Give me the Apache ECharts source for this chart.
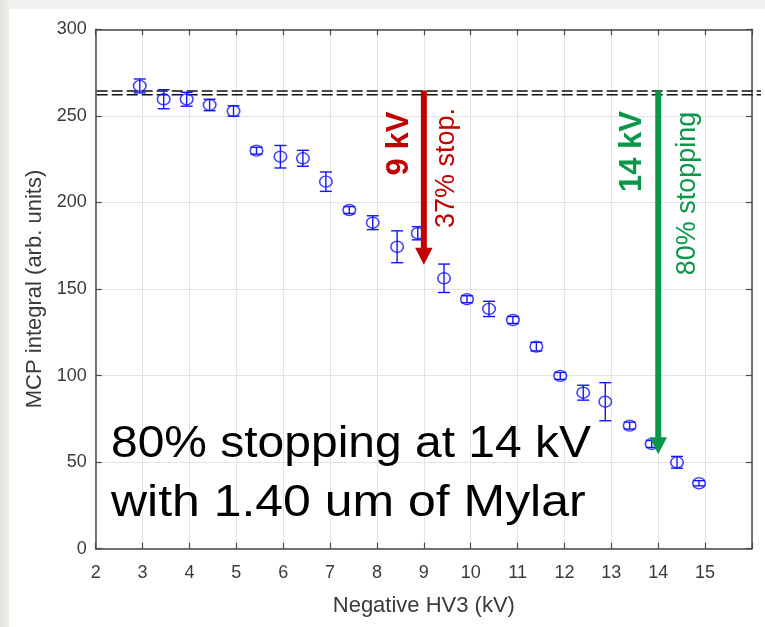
<!DOCTYPE html>
<html>
<head>
<meta charset="utf-8">
<script src="https://cdn.jsdelivr.net/npm/echarts@6/dist/echarts.min.js"></script>
<style>
html,body{margin:0;padding:0;background:#ffffff;}
#chart{width:765px;height:627px;}
</style>
</head>
<body>
<div id="chart"></div>
<script>
// ---- data ----
const voltages  = [2.94, 3.45, 3.94, 4.43, 4.94, 5.43, 5.94, 6.42, 6.91, 7.41, 7.91, 8.43, 8.87, 9.43, 9.92, 10.39, 10.90, 11.40, 11.91, 12.40, 12.87, 13.39, 13.86, 14.40, 14.87];
const mcpValues = [267.3, 259.6, 259.6, 256.3, 252.8, 229.9, 226.4, 225.5, 212.0, 195.6, 188.3, 174.4, 182.2, 156.2, 144.1, 138.5, 132.1, 116.7, 99.8, 90.1, 84.9, 71.1, 60.5, 49.9, 37.8];
const mcpErrors = [4.0, 5.5, 4.0, 3.3, 3.0, 2.0, 6.5, 4.6, 5.6, 2.0, 4.0, 9.2, 3.8, 8.2, 2.0, 4.4, 2.0, 2.5, 2.0, 4.3, 11.0, 2.0, 2.0, 3.4, 1.5];
const xTickLabels = [2, 3, 4, 5, 6, 7, 8, 9, 10, 11, 12, 13, 14, 15];
const yTickLabels = [0, 50, 100, 150, 200, 250, 300];
const thresholdLevels = [264.4, 262.2];
const arrowX    = [9, 14];
const arrowFrom = [264.6, 264.6];
const arrowTo   = [164.0, 54.6];
const arrowColorNames = ['red', 'green'];
const annotationTexts = ['9 kV', '37% stop.', '14 kV', '80% stopping'];
const annotationX = [8.48, 9.48, 13.45, 14.62];
const annotationY = [234.0, 219.9, 229.4, 205.2];
const annotationBold = [true, false, true, false];
const annotationColorNames = ['red', 'red', 'green', 'green'];
const noteLines = ['80% stopping at 14 kV', 'with 1.40 um of Mylar'];

// ---- styles ----
const COLORS = { red: '#c00000', green: '#0a974a', blue: '#1414ff' };
const FONT = 'Liberation Sans, Arial, sans-serif';
const AXIS_COLOR = '#4a4a4a';
const LABEL_COLOR = '#3a3a3a';
const noteScaleX = [1.09, 1.135];

const chart = echarts.init(document.getElementById('chart'), null, { renderer: 'canvas' });

const pointData = voltages.map((v, i) => [v, mcpValues[i], mcpErrors[i]]);
const arrowData = arrowX.map((x, i) => [x, arrowFrom[i], arrowTo[i], i]);
const annotationData = annotationTexts.map((t, i) => [annotationX[i], annotationY[i], i]);
const thresholdData = thresholdLevels.map(v => [v]);

const xMin = xTickLabels[0], xMax = 16, yMin = yTickLabels[0], yMax = yTickLabels[yTickLabels.length - 1];

const option = {
  animation: false,
  backgroundColor: '#ffffff',
  graphic: [
    { type: 'rect', left: 0, top: 0, z: -10, shape: { width: 765, height: 9 }, style: { fill: '#f1f0ee' } },
    { type: 'rect', left: 0, top: 0, z: -10, shape: { width: 9, height: 627 },
      style: { fill: new echarts.graphic.LinearGradient(0, 0, 1, 0, [{ offset: 0, color: '#e4e2de' }, { offset: 1, color: '#efeeeb' }]) } }
  ].concat(noteLines.map((t, i) => ({
    type: 'text', x: 111, y: 423 + i * 58.5, scaleX: noteScaleX[i], zlevel: 2, z: 100,
    style: { text: t, fill: '#000000', font: '44px ' + FONT, align: 'left', verticalAlign: 'top' }
  }))),
  grid: { left: 95.7, right: 13, top: 29.3, bottom: 78.3, containLabel: false },
  xAxis: [
    {
      type: 'value', min: xMin, max: xMax, interval: 1, position: 'bottom',
      name: 'Negative HV3 (kV)', nameLocation: 'middle', nameGap: 46,
      nameTextStyle: { color: LABEL_COLOR, fontFamily: FONT, fontSize: 22 },
      axisLine: { show: true, onZero: false, lineStyle: { color: AXIS_COLOR, width: 1.5 } },
      axisTick: { show: true, inside: true, length: 6, lineStyle: { color: AXIS_COLOR, width: 1.2 } },
      axisLabel: { color: LABEL_COLOR, fontFamily: FONT, fontSize: 18, margin: 15,
        formatter: v => (xTickLabels.indexOf(v) >= 0 ? String(v) : '') },
      splitLine: { show: true, lineStyle: { color: '#e3e3e3', width: 1 } }
    },
    {
      type: 'value', min: xMin, max: xMax, interval: 1, position: 'top',
      axisLine: { show: true, onZero: false, lineStyle: { color: AXIS_COLOR, width: 1.5 } },
      axisTick: { show: true, inside: true, length: 6, lineStyle: { color: AXIS_COLOR, width: 1.2 } },
      axisLabel: { show: false }, splitLine: { show: false }
    }
  ],
  yAxis: [
    {
      type: 'value', min: yMin, max: yMax, interval: 50, position: 'left',
      name: 'MCP integral (arb. units)', nameLocation: 'middle', nameGap: 50,
      nameTextStyle: { color: LABEL_COLOR, fontFamily: FONT, fontSize: 22 },
      axisLine: { show: true, onZero: false, lineStyle: { color: AXIS_COLOR, width: 1.5 } },
      axisTick: { show: true, inside: true, length: 6, lineStyle: { color: AXIS_COLOR, width: 1.2 } },
      axisLabel: { color: LABEL_COLOR, fontFamily: FONT, fontSize: 18, margin: 9 },
      splitLine: { show: true, lineStyle: { color: '#e3e3e3', width: 1 } }
    },
    {
      type: 'value', min: yMin, max: yMax, interval: 50, position: 'right',
      axisLine: { show: true, onZero: false, lineStyle: { color: AXIS_COLOR, width: 1.5 } },
      axisTick: { show: true, inside: true, length: 6, lineStyle: { color: AXIS_COLOR, width: 1.2 } },
      axisLabel: { show: false }, splitLine: { show: false }
    }
  ],
  series: [
    {
      name: 'threshold', type: 'custom', xAxisIndex: 0, yAxisIndex: 0, clip: false, z: 3,
      data: thresholdData,
      renderItem: (params, api) => {
        const a = api.coord([xMin, api.value(0)]);
        const b = api.coord([xMax, api.value(0)]);
        return { type: 'line', shape: { x1: a[0] + 1, y1: a[1], x2: b[0] + 9, y2: b[1] },
          style: { stroke: '#111111', lineWidth: 1.4, lineDash: [11, 4] } };
      }
    },
    {
      name: 'errors', type: 'custom', xAxisIndex: 0, yAxisIndex: 0, z: 4,
      data: pointData,
      renderItem: (params, api) => {
        const x = api.value(0), y = api.value(1), e = api.value(2);
        const t = api.coord([x, y + e]);
        const b = api.coord([x, y - e]);
        const cw = 6;
        const st = { stroke: COLORS.blue, lineWidth: 1.4 };
        return { type: 'group', children: [
          { type: 'line', shape: { x1: t[0], y1: t[1], x2: b[0], y2: b[1] }, style: st },
          { type: 'line', shape: { x1: t[0] - cw, y1: t[1], x2: t[0] + cw, y2: t[1] }, style: st },
          { type: 'line', shape: { x1: b[0] - cw, y1: b[1], x2: b[0] + cw, y2: b[1] }, style: st }
        ] };
      }
    },
    {
      name: 'MCP', type: 'scatter', xAxisIndex: 0, yAxisIndex: 0, z: 5,
      data: pointData.map(p => [p[0], p[1]]),
      symbol: 'circle', symbolSize: [12.5, 11],
      itemStyle: { color: 'rgba(0,0,0,0)', borderColor: COLORS.blue, borderWidth: 1.5 }
    },
    {
      name: 'arrows', type: 'custom', xAxisIndex: 0, yAxisIndex: 0, z: 8,
      data: arrowData,
      renderItem: (params, api) => {
        const top = api.coord([api.value(0), api.value(1)]);
        const tip = api.coord([api.value(0), api.value(2)]);
        const col = COLORS[arrowColorNames[api.value(3)]];
        const sw = 6, hw = 17.5, hl = 17;
        return { type: 'group', children: [
          { type: 'rect', shape: { x: top[0] - sw / 2, y: top[1], width: sw, height: tip[1] - hl - top[1] + 1 }, style: { fill: col } },
          { type: 'polygon', shape: { points: [[tip[0] - hw / 2, tip[1] - hl], [tip[0] + hw / 2, tip[1] - hl], [tip[0], tip[1]]] }, style: { fill: col } }
        ] };
      }
    },
    {
      name: 'annotations', type: 'custom', xAxisIndex: 0, yAxisIndex: 0, z: 9,
      data: annotationData,
      renderItem: (params, api) => {
        const p = api.coord([api.value(0), api.value(1)]);
        const i = api.value(2);
        const bold = annotationBold[i];
        return { type: 'text', x: p[0], y: p[1], rotation: Math.PI / 2,
          style: { text: annotationTexts[i], fill: COLORS[annotationColorNames[i]],
            font: (bold ? 'bold 31px ' : '27px ') + FONT, align: 'center', verticalAlign: 'middle' } };
      }
    }
  ]
};
chart.setOption(option);
</script>
</body>
</html>
